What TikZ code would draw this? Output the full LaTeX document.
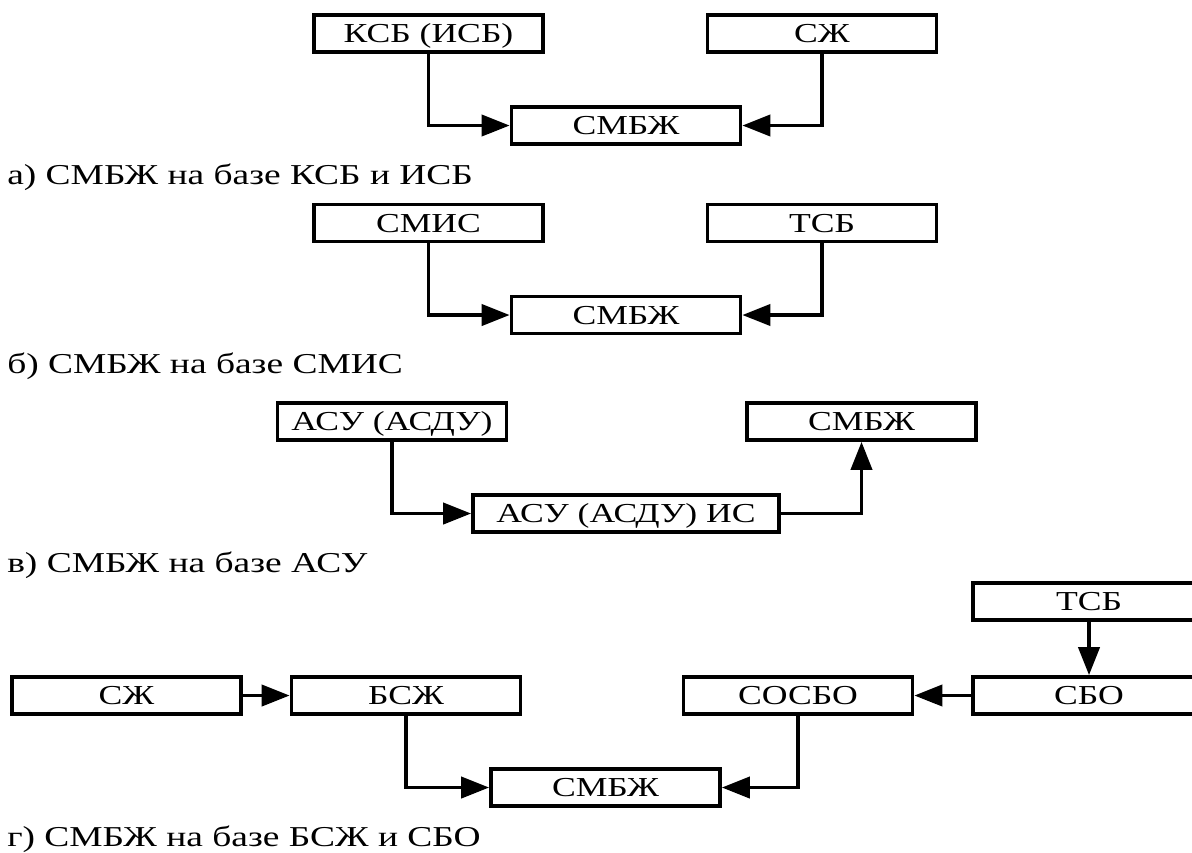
\documentclass[tikz,border=0pt]{standalone}
\usepackage{fontspec}
\setmainfont[FakeStretch=1.3]{Liberation Serif}
\usetikzlibrary{arrows.meta}

\tikzset{
  blockbox/.style={draw,line width=2.7pt,minimum width=57.25mm,
    minimum height=9.25mm,inner sep=0pt,text height=12.8pt,text depth=0pt,
    font=\fontsize{19.5}{22}\selectfont},
  link/.style={line width=2.5pt,-{Triangle[length=7mm,width=5.3mm]}},
  schemecaption/.style={anchor=west,inner sep=0pt,text height=13.4pt,
    text depth=0pt,font=\fontsize{20.5}{24}\selectfont}
}

\begin{document}
\begin{tikzpicture}[x=.25mm,y=-.25mm]
    \useasboundingbox[fill=white] (0,0) rectangle (1192,852);
    % а)
    \node[blockbox] (ksb) at (428.5,33.5) {КСБ (ИСБ)};
    \node[blockbox] (szhA) at (822,33.5) {СЖ};
    \node[blockbox] (smbzhA) at (626,125.5) {СМБЖ};
    \draw[link] (ksb.south) |- (smbzhA.west);
    \draw[link] (szhA.south) |- (smbzhA.east);
    \node[schemecaption] (capA) at (7,175) {а) СМБЖ на базе КСБ и ИСБ};
    % б)
    \node[blockbox] (smis) at (428.5,223) {СМИС};
    \node[blockbox] (tsbB) at (822,223) {ТСБ};
    \node[blockbox] (smbzhB) at (626,315) {СМБЖ};
    \draw[link] (smis.south) |- (smbzhB.west);
    \draw[link] (tsbB.south) |- (smbzhB.east);
    \node[schemecaption] (capB) at (7,364) {б) СМБЖ на базе СМИС};
    % в)
    \node[blockbox] (asu) at (392,421.5) {АСУ (АСДУ)};
    \node[blockbox,minimum width=76.5mm] (asuis) at (626,513.5) {АСУ (АСДУ) ИС};
    \node[blockbox] (smbzhC) at (861.5,421.5) {СМБЖ};
    \draw[link] (asu.south) |- (asuis.west);
    \draw[link] (asuis.east) -| (smbzhC.south);
    \node[schemecaption] (capC) at (7,563) {в) СМБЖ на базе АСУ};
    % г)
    \node[blockbox,minimum width=58mm] (tsbD) at (1089,601.5) {ТСБ};
    \node[blockbox,minimum width=58mm] (sbo) at (1089,695.5) {СБО};
    \node[blockbox] (sosbo) at (798,695.5) {СОСБО};
    \node[blockbox] (szhD) at (126.5,695.5) {СЖ};
    \node[blockbox] (bszh) at (406,695.5) {БСЖ};
    \node[blockbox] (smbzhD) at (605.5,787.5) {СМБЖ};
    \draw[link] (tsbD) -- (sbo);
    \draw[link] (sbo) -- (sosbo);
    \draw[link] (szhD) -- (bszh);
    \draw[link] (bszh.south) |- (smbzhD.west);
    \draw[link] (sosbo.south) |- (smbzhD.east);
    \node[schemecaption] (capD) at (7,837) {г) СМБЖ на базе БСЖ и СБО};
  \end{tikzpicture}
\end{document}
